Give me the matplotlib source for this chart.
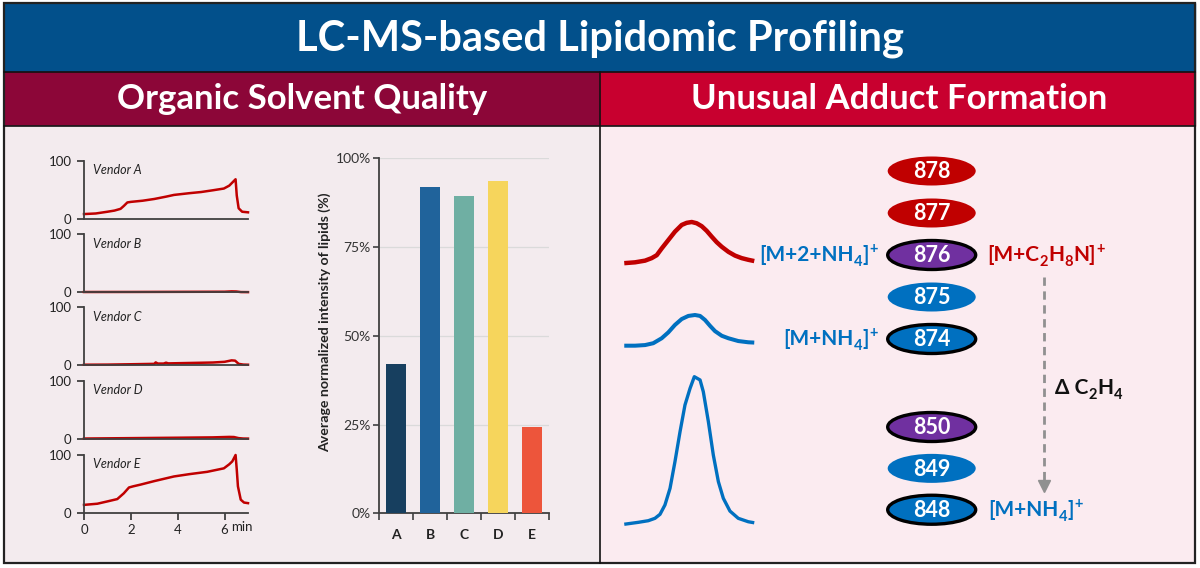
import matplotlib.pyplot as plt
import matplotlib.patches as mpatches
import numpy as np

plt.rcParams['font.family'] = ['Lato', 'DejaVu Sans']

# ---- data ----
title = 'LC-MS-based Lipidomic Profiling'
left_title = 'Organic Solvent Quality'
right_title = 'Unusual Adduct Formation'

vendors = ['A', 'B', 'C', 'D', 'E']
# chromatograms (time in min, relative intensity)
t_A = [0, 0.5, 1.0, 1.3, 1.56, 1.7, 1.85, 2.0, 2.5, 3.0, 3.5, 3.84, 4.5, 5.0, 5.5, 5.97, 6.2, 6.47, 6.52, 6.6, 6.75, 7.0]
i_A = [8, 9, 12, 14, 17, 22, 28, 29, 31, 34, 38, 41, 44, 46, 49, 52, 57, 68, 40, 18, 12, 11]
t_B = [0, 2, 4, 6, 6.3, 6.5, 6.7, 7]
i_B = [0.5, 0.6, 0.8, 1.0, 1.6, 1.4, 0.4, 0.3]
t_C = [0, 1, 2, 3.0, 3.06, 3.15, 3.4, 3.5, 3.6, 4.5, 5.5, 6.0, 6.3, 6.45, 6.6, 6.8, 7]
i_C = [1, 1.2, 1.8, 2.5, 5, 3, 3, 4.5, 3.3, 4, 4.8, 6, 8.5, 8, 2.5, 1.2, 1]
t_D = [0, 2, 4, 5.5, 6.2, 6.4, 6.6, 6.8, 7]
i_D = [0.8, 1.5, 2.2, 2.8, 3.6, 3.4, 1.5, 0.8, 0.7]
t_E = [0, 0.57, 1.0, 1.42, 1.7, 1.92, 2.1, 2.42, 3.0, 3.84, 4.5, 5.26, 5.97, 6.2, 6.33, 6.47, 6.52, 6.57, 6.69, 6.83, 7.0]
i_E = [14, 16, 20, 24, 34, 44, 46, 49, 55, 63, 67, 71, 77, 84, 89, 100, 75, 46, 23, 18, 17]
chrom_t = [t_A, t_B, t_C, t_D, t_E]
chrom_i = [i_A, i_B, i_C, i_D, i_E]

# bar chart
bar_values = [0.421, 0.918, 0.893, 0.937, 0.244]
bar_colors = ['#173F5F', '#20639B', '#6FAFA3', '#F6D55C', '#ED553B']

# extracted ion peaks (relative rt 0-10, normalised intensity)
pk1_t = [0.02, 0.85, 1.62, 2.13, 2.52, 2.9, 3.41, 3.92, 4.44, 4.82, 5.21, 5.59, 5.98, 6.36, 6.75, 7.13,
         7.52, 8.03, 8.54, 9.05, 9.56, 10.02]
pk1_i = [0.02, 0.04, 0.08, 0.14, 0.21, 0.37, 0.57, 0.77, 0.93, 0.98, 1.0, 0.97, 0.90, 0.79, 0.65, 0.52,
         0.41, 0.29, 0.20, 0.14, 0.10, 0.07]
pk2_t = [0.02, 0.85, 1.62, 2.25, 2.9, 3.41, 3.92, 4.44, 4.95, 5.46, 5.85, 6.23, 6.62, 7.0, 7.52, 8.03,
         8.79, 9.56, 10.02]
pk2_i = [0.01, 0.01, 0.03, 0.09, 0.25, 0.44, 0.68, 0.87, 0.97, 1.0, 0.97, 0.84, 0.65, 0.48, 0.33, 0.25,
         0.16, 0.12, 0.11]
pk3_t = [0.02, 1.1, 1.87, 2.38, 2.77, 3.15, 3.54, 3.92, 4.31, 4.69, 5.08, 5.41, 5.85, 6.1, 6.49, 6.87,
         7.26, 7.64, 8.15, 8.79, 9.56, 10.02]
pk3_i = [0.005, 0.018, 0.029, 0.045, 0.072, 0.135, 0.247, 0.427, 0.629, 0.809, 0.921, 1.0, 0.978, 0.899,
         0.697, 0.472, 0.292, 0.180, 0.094, 0.045, 0.022, 0.015]

mz_upper = ['878', '877', '876', '875', '874']
mz_lower = ['850', '849', '848']
mz_colors = {'878': '#C00000', '877': '#C00000', '876': '#7030A0', '875': '#0070C0',
             '874': '#0070C0', '850': '#7030A0', '849': '#0070C0', '848': '#0070C0'}
mz_outlined = ['876', '874', '850', '848']

# adduct labels as (text, n / sub / sup) pieces
lab_m2nh4 = [('[M+2+NH', 'n'), ('4', 'sub'), (']', 'n'), ('+', 'sup')]
lab_mnh4 = [('[M+NH', 'n'), ('4', 'sub'), (']', 'n'), ('+', 'sup')]
lab_c2h8n = [('[M+C', 'n'), ('2', 'sub'), ('H', 'n'), ('8', 'sub'), ('N]', 'n'), ('+', 'sup')]
lab_delta = [('Δ C', 'n'), ('2', 'sub'), ('H', 'n'), ('4', 'sub')]

W, H = 1200, 568
fig = plt.figure(figsize=(12, 5.68), dpi=100)
fig.patch.set_facecolor('white')

bg = fig.add_axes([0, 0, 1, 1])
bg.set_xlim(0, W)
bg.set_ylim(H, 0)
bg.axis('off')

def px_axes(x0, y0, x1, y1):
    # pixel box (top-left origin) -> figure axes
    return fig.add_axes([x0 / W, 1 - y1 / H, (x1 - x0) / W, (y1 - y0) / H])

# background blocks
L, R, T, B = 4, 1195, 3, 563
bg.add_patch(mpatches.Rectangle((L, T), R - L, 72 - T, color='#02508B', zorder=0))
bg.add_patch(mpatches.Rectangle((L, 72), 600 - L, 54, color='#8C0638', zorder=0))
bg.add_patch(mpatches.Rectangle((600, 72), R - 600, 54, color='#C8002F', zorder=0))
bg.add_patch(mpatches.Rectangle((L, 126), 600 - L, B - 126, color='#F3EBEE', zorder=0))
bg.add_patch(mpatches.Rectangle((600, 126), R - 600, B - 126, color='#FBEBF0', zorder=0))
bg.add_patch(mpatches.Rectangle((L, T), R - L, B - T, fill=False, ec='#222222', lw=1.6, zorder=5))
bg.plot([L, R], [72, 72], color='#111111', lw=1.2, zorder=5)
bg.plot([L, R], [126, 126], color='#111111', lw=1.2, zorder=5)
bg.plot([600, 600], [72, B], color='#111111', lw=1.2, zorder=5)

bg.text(600, 39, title, color='white', fontsize=30, fontweight='bold', ha='center', va='center')
bg.text(302, 99, left_title, color='white', fontsize=25, fontweight='bold', ha='center', va='center')
bg.text(899, 99, right_title, color='white', fontsize=25, fontweight='bold', ha='center', va='center')

# ---- chromatograms ----
spine_c = '#404040'
tops = [160.7, 234.3, 307.3, 381.0, 455.0]
for k, v in enumerate(vendors):
    ax = px_axes(84, tops[k], 248, tops[k] + 58)
    ax.set_facecolor('none')
    ax.plot(chrom_t[k], chrom_i[k], color='#C00000', lw=1.8, clip_on=False)
    ax.set_xlim(0, 7)
    ax.set_ylim(0, 100)
    for s in ['top', 'right']:
        ax.spines[s].set_visible(False)
    for s in ['left', 'bottom']:
        ax.spines[s].set_color(spine_c)
        ax.spines[s].set_linewidth(1.3)
    ax.set_yticks([0, 100])
    ax.tick_params(axis='y', length=5, width=1.3, color=spine_c, labelsize=9.5, pad=4, labelcolor='#222222')
    if k == 4:
        ax.set_xticks([0, 2, 4, 6])
        ax.tick_params(axis='x', length=5, width=1.3, color=spine_c, labelsize=9.5, pad=3, labelcolor='#222222')
        ax.text(6.3, -24, 'min', fontsize=9.5, color='#222222', va='center', ha='left')
    else:
        ax.set_xticks([])
    ax.text(0.38, 84, 'Vendor ' + v, fontsize=9, style='italic', color='#222222', va='center')

# ---- bar chart ----
bx = px_axes(379.3, 158.3, 549, 513.3)
bx.set_facecolor('none')
xpos = np.arange(len(vendors))
bx.bar(xpos, bar_values, width=0.59, color=bar_colors, zorder=3)
bx.set_xlim(-0.5, 4.5)
bx.set_ylim(0, 1)
bx.set_yticks([0, 0.25, 0.5, 0.75, 1.0])
bx.set_yticklabels(['0%', '25%', '50%', '75%', '100%'])
bx.yaxis.grid(True, color='#DADADA', lw=0.9, zorder=0)
for s in ['top', 'right']:
    bx.spines[s].set_visible(False)
for s in ['left', 'bottom']:
    bx.spines[s].set_color(spine_c)
    bx.spines[s].set_linewidth(1.3)
bx.tick_params(axis='y', length=4, width=1.2, color=spine_c, labelsize=10, pad=2, labelcolor='#333333')
bx.set_xticks(xpos)
bx.set_xticklabels(vendors, fontweight='bold', fontsize=10)
bx.tick_params(axis='x', length=0, pad=11, labelcolor='#222222')
bx.set_xticks(np.arange(-0.5, 5, 1), minor=True)
bx.tick_params(axis='x', which='minor', length=5, width=1.2, color=spine_c)
bg.text(325, 322, 'Average normalized intensity of lipids (%)', rotation=90, fontsize=10.2,
        fontweight='bold', ha='center', va='center', color='#222222')

# ---- extracted ion peaks ----
peaks = [(pk1_t, pk1_i, '#C00000', 3.2, 222, 264),
         (pk2_t, pk2_i, '#0070C0', 2.9, 315, 346),
         (pk3_t, pk3_i, '#0070C0', 2.4, 376.7, 525)]
for pt, pi, c, lw, ytop, ybase in peaks:
    pa = px_axes(624, ytop, 754, ybase)
    pa.plot(pt, pi, color=c, lw=lw, solid_capstyle='butt', solid_joinstyle='round', clip_on=False)
    pa.set_xlim(0, 10)
    pa.set_ylim(0, 1)
    pa.axis('off')

# ---- m/z ladder ----
cx, ew, eh = 931.7, 88, 29
step = 42
ys = {}
for i, m in enumerate(mz_upper):
    ys[m] = 171 + step * i
for i, m in enumerate(mz_lower):
    ys[m] = 427 + step * i * 0.985
for m, y in ys.items():
    out = m in mz_outlined
    bg.add_patch(mpatches.Ellipse((cx, y), ew, eh, facecolor=mz_colors[m],
                                  edgecolor='black' if out else 'none', lw=2.4 if out else 0, zorder=3))
    bg.text(cx, y + 1, m, color='white', fontsize=15.5, fontweight='bold', ha='center', va='center', zorder=4)

# rich labels: pieces chained to the previous piece's right edge
def rich_label(x, y, pieces, color, size, align='left'):
    base = bg.text(x, y, pieces[0][0], color=color, fontsize=size, fontweight='bold',
                   ha='left', va='baseline')
    prev, arts = base, [base]
    for txt, kind in pieces[1:]:
        fs = size if kind == 'n' else size * 0.7
        dy = {'n': 0, 'sub': -size * 0.2, 'sup': size * 0.42}[kind]
        a = bg.annotate(txt, xy=(1, 0), xycoords=(prev, base), xytext=(0.3, dy), textcoords='offset points',
                        color=color, fontsize=fs, fontweight='bold', ha='left', va='bottom')
        arts.append(a)
        prev = a
    return base, arts

blue, red = '#0070C0', '#C00000'
lab_size = 15
right_labels = [rich_label(878, ys['876'] + 6, lab_m2nh4, blue, lab_size),
                rich_label(878, ys['874'] + 6, lab_mnh4, blue, lab_size)]
rich_label(987, ys['876'] + 6, lab_c2h8n, red, lab_size)
rich_label(988, ys['848'] + 6, lab_mnh4, blue, lab_size)
rich_label(1055, 394, lab_delta, '#111111', lab_size)

# shift right-aligned labels so their last piece ends at x=878
fig.canvas.draw()
renderer = fig.canvas.get_renderer()
for base, arts in right_labels:
    x1 = arts[-1].get_window_extent(renderer).x1
    base.set_x(878 - (x1 - 878))

bg.plot([1044, 1044], [277, 482], color='#909090', lw=2, ls=(0, (3, 2)), zorder=2)
bg.plot([1044], [486], marker='v', color='#909090', markersize=8, zorder=2)

fig.savefig('out.png', dpi=100)
